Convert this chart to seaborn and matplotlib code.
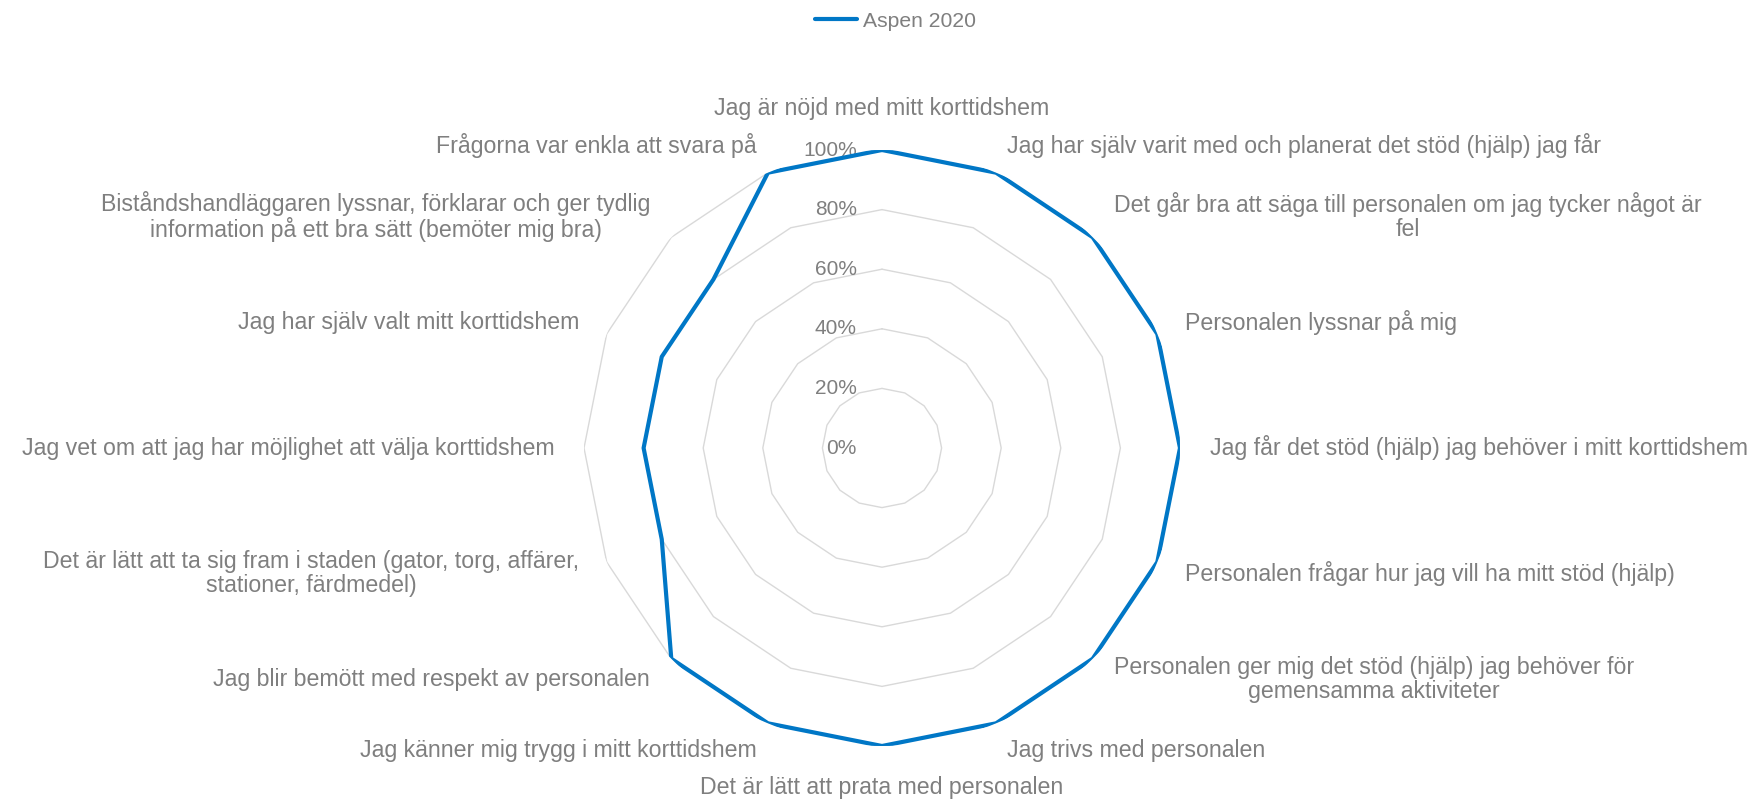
import numpy as np
import matplotlib
matplotlib.use("Agg")
import matplotlib.pyplot as plt
import seaborn as sns
from matplotlib.lines import Line2D

categories = [
    "Jag är nöjd med mitt korttidshem",
    "Jag har själv varit med och planerat det stöd (hjälp) jag får",
    "Det går bra att säga till personalen om jag tycker något är\nfel",
    "Personalen lyssnar på mig",
    "Jag får det stöd (hjälp) jag behöver i mitt korttidshem",
    "Personalen frågar hur jag vill ha mitt stöd (hjälp)",
    "Personalen ger mig det stöd (hjälp) jag behöver för\ngemensamma aktiviteter",
    "Jag trivs med personalen",
    "Det är lätt att prata med personalen",
    "Jag känner mig trygg i mitt korttidshem",
    "Jag blir bemött med respekt av personalen",
    "Det är lätt att ta sig fram i staden (gator, torg, affärer,\nstationer, färdmedel)",
    "Jag vet om att jag har möjlighet att välja korttidshem",
    "Jag har själv valt mitt korttidshem",
    "Biståndshandläggaren lyssnar, förklarar och ger tydlig\ninformation på ett bra sätt (bemöter mig bra)",
    "Frågorna var enkla att svara på",
]
series_name = "Aspen 2020"
values = [100, 100, 100, 100, 100, 100, 100, 100, 100, 100, 100, 80, 80, 80, 80, 100]
tick_values = [0, 20, 40, 60, 80, 100]
tick_labels = ["0%", "20%", "40%", "60%", "80%", "100%"]

sns.set_theme(style="white")
plt.rcParams["font.family"] = ["Liberation Sans", "DejaVu Sans"]

TEXT = "#7f7f7f"
BLUE = "#0077C6"
GRID = "#d9d9d9"
FS = 16.7
FS_TICK = 15
FS_LEG = 15.2

fig = plt.figure(figsize=(17.56, 8.0), dpi=100)
R_px = 298
cx, cy = 882 / 1756, 1 - 448 / 800
w, h = 2 * R_px / 1756, 2 * R_px / 800
ax = fig.add_axes([cx - w / 2, cy - h / 2, w, h], projection="polar")
ax.set_theta_zero_location("N")
ax.set_theta_direction(-1)
ax.set_ylim(0, 100)
ax.grid(False)
ax.spines["polar"].set_visible(False)
ax.set_xticks([])
ax.set_yticks([])
ax.set_facecolor("none")

n = len(categories)
theta = np.arange(n) * 2 * np.pi / n
theta_c = np.append(theta, theta[0])

# polygon gridlines
for tv in tick_values[1:]:
    ax.plot(theta_c, [tv] * (n + 1), color=GRID, lw=1.0, zorder=1)

# data line
vals_c = np.append(values, values[0])
sns.lineplot(x=theta_c, y=vals_c, ax=ax, color=BLUE, lw=3.0, sort=False,
             estimator=None, zorder=3, legend=False)
ax.set_xlabel("")
ax.set_ylabel("")

# tick labels
for tv, tl in zip(tick_values, tick_labels):
    ax.annotate(tl, xy=(0, tv), xytext=(-18, 0), textcoords="offset points",
                ha="right", va="center", color=TEXT, fontsize=FS_TICK, zorder=2)

# category labels
for t, lab in zip(theta, categories):
    deg = np.degrees(t) % 360
    if np.isclose(deg, 0):
        ha, va = "center", "bottom"
    elif np.isclose(deg, 180):
        ha, va = "center", "top"
    elif deg < 180:
        ha, va = "left", "center"
    else:
        ha, va = "right", "center"
    ax.text(t, 110, lab, ha=ha, va=va, color=TEXT, fontsize=FS,
            multialignment="center", linespacing=1.05, clip_on=False)

handle = Line2D([0], [0], color=BLUE, lw=3.0)
fig.legend([handle], [series_name], loc="upper center",
           bbox_to_anchor=(0.51, 1.009), frameon=False, fontsize=FS_LEG,
           labelcolor=TEXT, handlelength=2.0, handletextpad=0.3)

fig.savefig("out.png", dpi=100, facecolor="white")
